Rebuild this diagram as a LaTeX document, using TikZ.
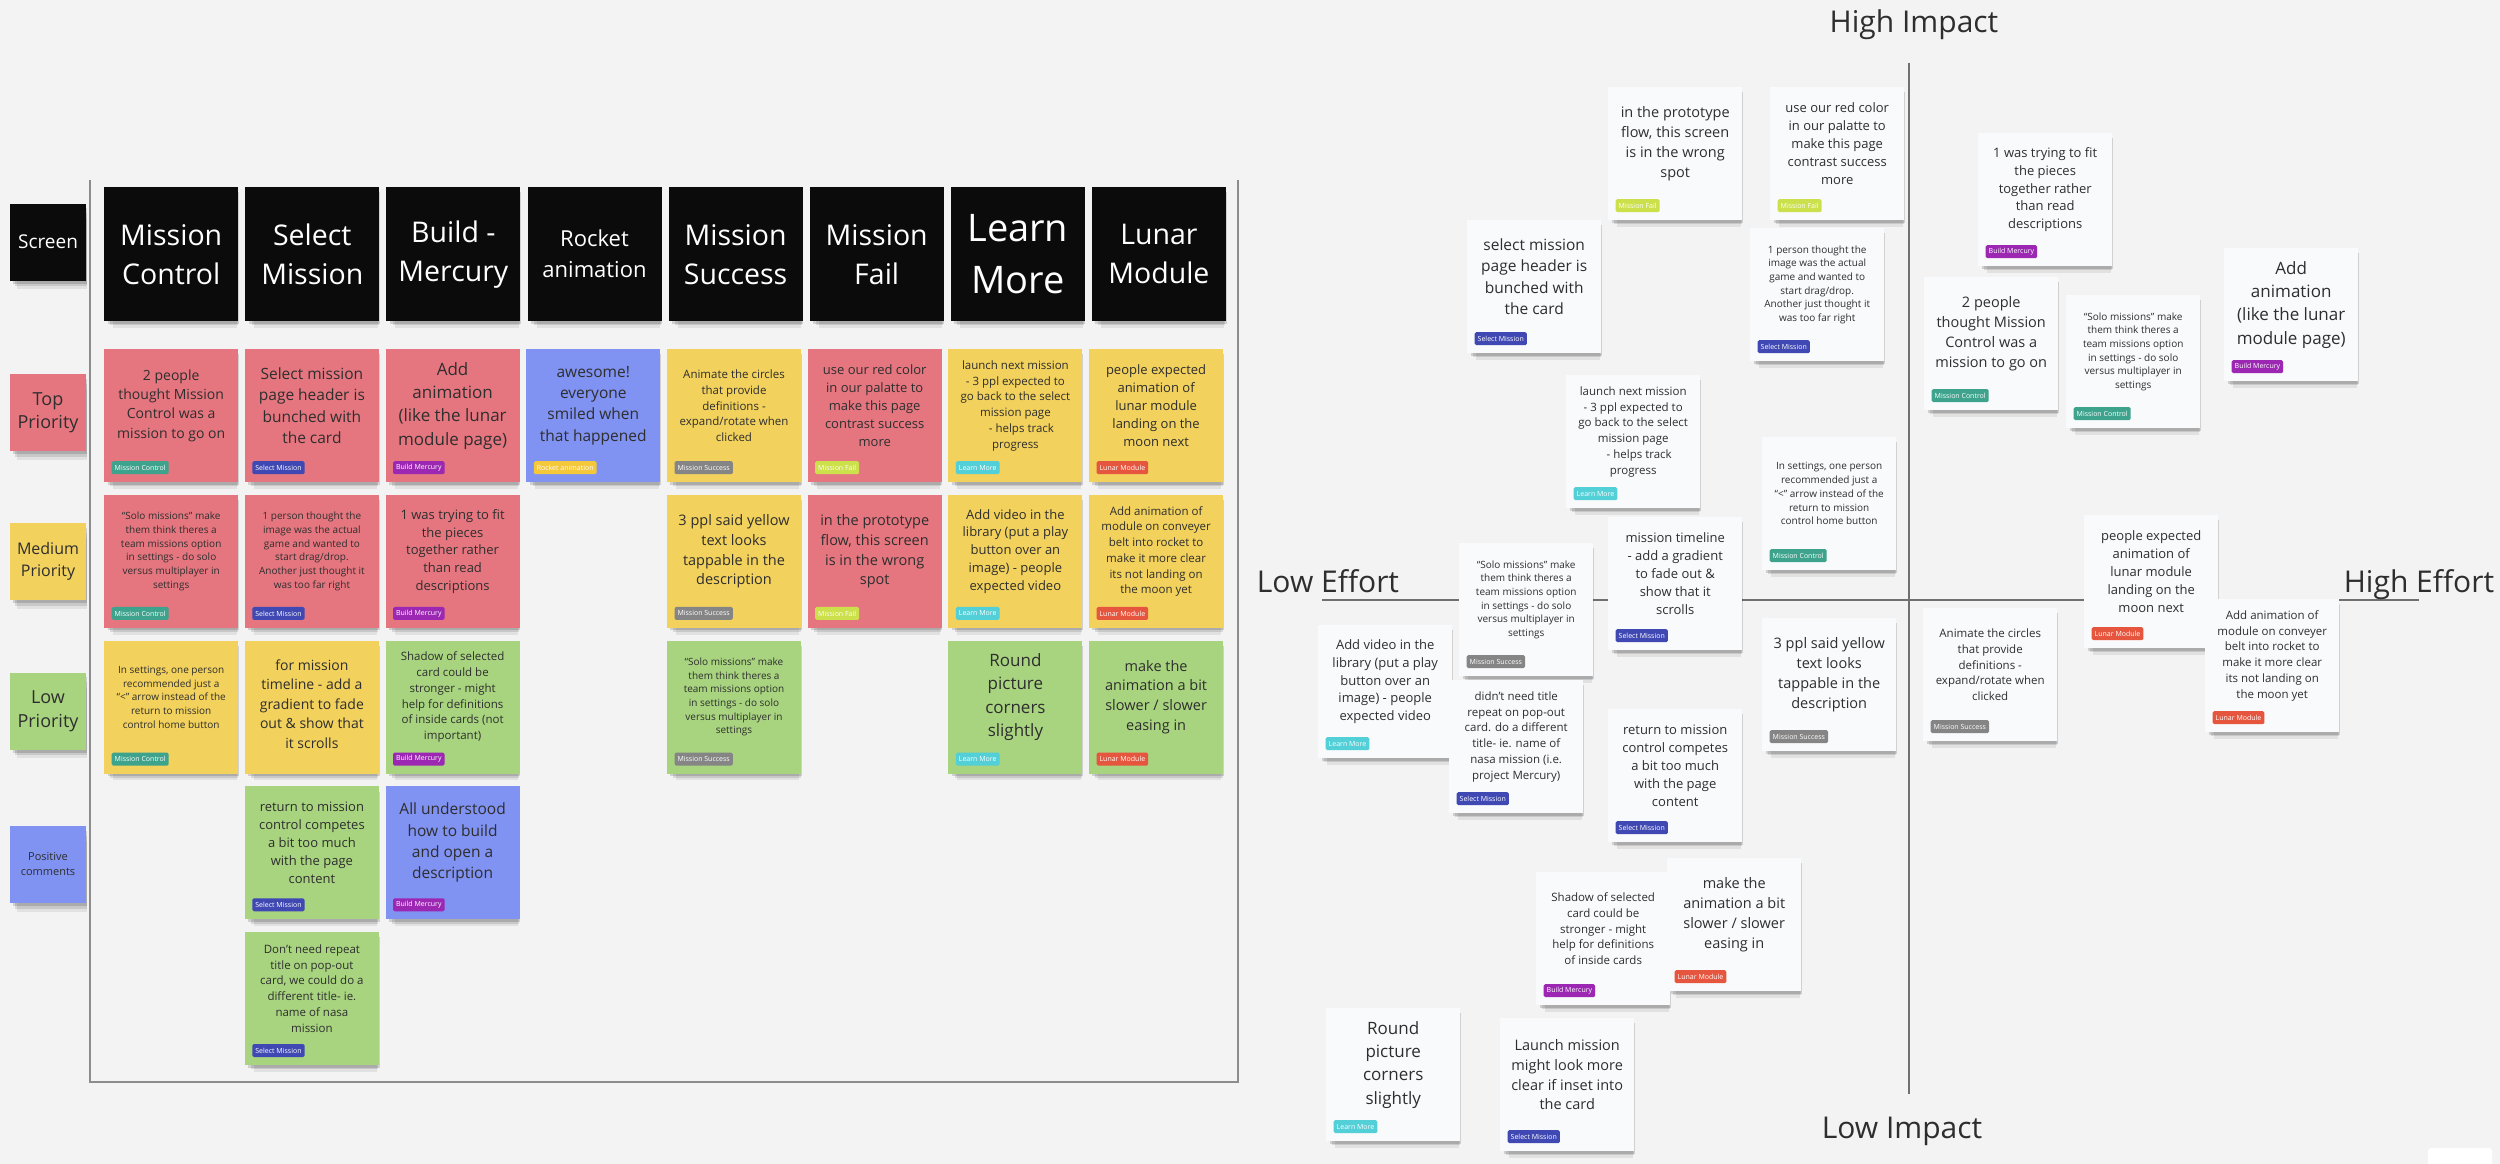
\documentclass[tikz,border=0pt]{standalone}
\usepackage{fontspec}
\setmainfont{Open Sans}
\usetikzlibrary{positioning, shadows}

\definecolor{bgGray}{HTML}{F3F3F3}
\definecolor{frameGray}{HTML}{8C8C8C}
\definecolor{axisGray}{HTML}{707070}
\definecolor{headBlack}{HTML}{0B0B0B}
\definecolor{inkGray}{HTML}{2E2E2E}
\definecolor{noteRed}{HTML}{E5767F}
\definecolor{noteYellow}{HTML}{F2D15C}
\definecolor{noteGreen}{HTML}{A8D480}
\definecolor{noteBlue}{HTML}{8092F2}
\definecolor{noteWhite}{HTML}{F9FAFB}
\definecolor{tagmc}{HTML}{3DA38D}
\definecolor{tagsm}{HTML}{4049B3}
\definecolor{tagbm}{HTML}{9B27B2}
\definecolor{tagra}{HTML}{F5C73A}
\definecolor{tagms}{HTML}{858585}
\definecolor{tagmf}{HTML}{CBE04A}
\definecolor{taglm}{HTML}{52CFD7}
\definecolor{taglu}{HTML}{E6553D}

% tag labels, looked up by key
\newcommand{\ttmc}{Mission Control}
\newcommand{\ttsm}{Select Mission}
\newcommand{\ttbm}{Build Mercury}
\newcommand{\ttra}{Rocket animation}
\newcommand{\ttms}{Mission Success}
\newcommand{\ttmf}{Mission Fail}
\newcommand{\ttlm}{Learn More}
\newcommand{\ttlu}{Lunar Module}

\begin{document}
\begin{tikzpicture}[
  x=1pt, y=-1pt,
  node distance=6.7pt,
  softshadow/.style={
    drop shadow={shadow xshift=4pt, shadow yshift=-13pt, shadow scale=0.92, opacity=0.07, fill=black},
    drop shadow={shadow xshift=3pt, shadow yshift=-8pt, shadow scale=0.95, opacity=0.11, fill=black},
    drop shadow={shadow xshift=2pt, shadow yshift=-4pt, shadow scale=0.98, opacity=0.14, fill=black}},
  card/.style={minimum width=134pt, minimum height=133pt, inner sep=0pt, anchor=north west,
               softshadow},
  header/.style={minimum width=134pt, minimum height=134pt, inner sep=0pt, fill=headBlack,
                 text=white, align=center, font=\fontsize{28.5}{39}\selectfont, softshadow},
  rowlbl/.style={minimum width=76pt, minimum height=77pt, inner sep=0pt, align=center,
                 text=inkGray, softshadow},
  cardtext/.style={align=center, inner sep=0pt, text=inkGray},
  tagbox/.style={anchor=south west, text=white, font=\fontsize{7}{8}\selectfont,
                 inner xsep=3pt, inner ysep=0pt, minimum height=13pt, rounded corners=1.5pt},
  axislbl/.style={font=\fontsize{30}{36}\selectfont, text=inkGray, inner sep=0pt,
                  text height=22pt, text depth=7pt},
  axisline/.style={draw=axisGray, line width=1.4pt},
  frameline/.style={draw=frameGray, line width=1.3pt},
]
\useasboundingbox (0,0) rectangle (2500,1164);
\fill[bgGray] (0,0) rectangle (2500,1164);

% Board: frame and row labels
\draw[frameline] (90,180) -- (90,1082) -- (1238,1082) -- (1238,180);
\node[rowlbl, fill=headBlack, text=white, font=\fontsize{19}{24}\selectfont] (lscr) at (48,242) {Screen};
\node[rowlbl, fill=noteRed, font=\fontsize{18}{23.5}\selectfont] (ltop) at (48,412.5) {Top\\Priority};
\node[rowlbl, fill=noteYellow, font=\fontsize{16}{22}\selectfont] (lmed) at (48,561.5) {Medium\\Priority};
\node[rowlbl, fill=noteGreen, font=\fontsize{18}{23.5}\selectfont] (llow) at (48,711) {Low\\Priority};
\node[rowlbl, fill=noteBlue, font=\fontsize{11}{15}\selectfont] (lpos) at (48,864.5) {Positive\\comments};

% Board: screen headers
\node[header, anchor=north west] (hmc) at (104,187) {Mission\\Control};
\node[header, right=of hmc]  (hsel) {Select\\Mission};
\node[header, right=of hsel] (hbld) {Build -\\Mercury};
\node[header, right=of hbld, font=\fontsize{22}{31}\selectfont] (hrkt) {Rocket\\animation};
\node[header, right=of hrkt] (hsuc) {Mission\\Success};
\node[header, right=of hsuc] (hfail) {Mission\\Fail};
\node[header, right=of hfail, font=\fontsize{38}{52}\selectfont] (hlrn) {Learn\\More};
\node[header, right=of hlrn] (hlun) {Lunar\\Module};

% Board: sticky notes by column / row
\foreach \nm/\cx/\ry/\fc/\fs/\txt/\tg in {
  b00/0/0/noteRed/14/{2 people\\thought Mission\\Control was a\\mission to go on}/mc,
  b01/0/1/noteRed/10/{“Solo missions” make\\them think theres a\\team missions option\\in settings - do solo\\versus multiplayer in\\settings}/mc,
  b02/0/2/noteYellow/10/{In settings, one person\\recommended just a\\“<” arrow instead of the\\return to mission\\control home button}/mc,
  b10/1/0/noteRed/15.5/{Select mission\\page header is\\bunched with\\the card}/sm,
  b11/1/1/noteRed/10/{1 person thought the\\image was the actual\\game and wanted to\\start drag/drop.\\Another just thought it\\was too far right}/sm,
  b13/1/3/noteGreen/13/{return to mission\\control competes\\a bit too much\\with the page\\content}/sm,
  b14/1/4/noteGreen/11.5/{Don’t need repeat\\title on pop-out\\card, we could do a\\different title- ie.\\name of nasa\\mission}/sm,
  b20/2/0/noteRed/17/{Add\\animation\\(like the lunar\\module page)}/bm,
  b21/2/1/noteRed/13/{1 was trying to fit\\the pieces\\together rather\\than read\\descriptions}/bm,
  b22/2/2/noteGreen/11.5/{Shadow of selected\\card could be\\stronger - might\\help for definitions\\of inside cards (not\\important)}/bm,
  b23/2/3/noteBlue/15.5/{All understood\\how to build\\and open a\\description}/bm,
  b30/3/0/noteBlue/15.5/{awesome!\\everyone\\smiled when\\that happened}/ra,
  b40/4/0/noteYellow/11.5/{Animate the circles\\that provide\\definitions -\\expand/rotate when\\clicked}/ms,
  b41/4/1/noteYellow/14.5/{3 ppl said yellow\\text looks\\tappable in the\\description}/ms,
  b42/4/2/noteGreen/10/{“Solo missions” make\\them think theres a\\team missions option\\in settings - do solo\\versus multiplayer in\\settings}/ms,
  b50/5/0/noteRed/13/{use our red color\\in our palatte to\\make this page\\contrast success\\more}/mf,
  b51/5/1/noteRed/14.5/{in the prototype\\flow, this screen\\is in the wrong\\spot}/mf,
  b60/6/0/noteYellow/11.5/{launch next mission\\- 3 ppl expected to\\go back to the select\\mission page\\\hspace*{12pt}- helps track\\progress}/lm,
  b61/6/1/noteYellow/13/{Add video in the\\library (put a play\\button over an\\image) - people\\expected video}/lm,
  b62/6/2/noteGreen/17/{Round\\picture\\corners\\slightly}/lm,
  b70/7/0/noteYellow/13/{people expected\\animation of\\lunar module\\landing on the\\moon next}/lu,
  b71/7/1/noteYellow/11.5/{Add animation of\\module on conveyer\\belt into rocket to\\make it more clear\\its not landing on\\the moon yet}/lu,
  b72/7/2/noteGreen/14.5/{make the\\animation a bit\\slower / slower\\easing in}/lu}{
  \pgfmathsetmacro\lead{1.37*\fs}
  \node[card, fill=\fc] (\nm) at ({104+140.7*\cx},{349+145.7*\ry}) {};
  \node[cardtext, font=\fontsize{\fs}{\lead}\selectfont] (\nm-t) at ([yshift=10pt]\nm.center) {\txt};
  \node[tagbox, fill=tag\tg] (\nm-g) at ([xshift=7.5pt, yshift=8pt]\nm.south west) {\csname tt\tg\endcsname};
}

% the one untagged note
\node[card, fill=noteYellow] (b12) at ({104+140.7},{349+145.7*2}) {};
\node[cardtext, font=\fontsize{14}{19.5}\selectfont] (b12-t) at ([yshift=3pt]b12.center)
  {for mission\\timeline - add a\\gradient to fade\\out \& show that\\it scrolls};

% Impact / effort quadrant
\coordinate (imptop) at (1909,63);
\coordinate (impbot) at (1909,1094);
\coordinate (effl)   at (1322,600);
\coordinate (effr)   at (2419,600);
\draw[axisline] (imptop) -- (impbot);
\draw[axisline] (effl) -- (effr);
\node[axislbl] (hiimp) at (1914,25.5)   {High Impact};
\node[axislbl] (loimp) at (1902,1130.5) {Low Impact};
\node[axislbl] (loeff) at (1328,584.5)  {Low Effort};
\node[axislbl] (hieff) at (2419,584.5)  {High Effort};

% Quadrant: sticky notes
\foreach \nm/\qx/\qy/\fs/\txt/\tg in {
  q1/1608/87/14.5/{in the prototype\\flow, this screen\\is in the wrong\\spot}/mf,
  q2/1770/87/13/{use our red color\\in our palatte to\\make this page\\contrast success\\more}/mf,
  q3/1467/220/15.5/{select mission\\page header is\\bunched with\\the card}/sm,
  q4/1750/228/10/{1 person thought the\\image was the actual\\game and wanted to\\start drag/drop.\\Another just thought it\\was too far right}/sm,
  q5/1566/375/11.5/{launch next mission\\- 3 ppl expected to\\go back to the select\\mission page\\\hspace*{12pt}- helps track\\progress}/lm,
  q6/1762/437/10/{In settings, one person\\recommended just a\\“<” arrow instead of the\\return to mission\\control home button}/mc,
  q7/1608/517/13/{mission timeline\\- add a gradient\\to fade out \&\\show that it\\scrolls}/sm,
  q8/1459/543/10/{“Solo missions” make\\them think theres a\\team missions option\\in settings - do solo\\versus multiplayer in\\settings}/ms,
  q9/1318/625/13/{Add video in the\\library (put a play\\button over an\\image) - people\\expected video}/lm,
  q10/1449/680/11.5/{didn’t need title\\repeat on pop-out\\card. do a different\\title- ie. name of\\nasa mission (i.e.\\project Mercury)}/sm,
  q11/1762/618/14.5/{3 ppl said yellow\\text looks\\tappable in the\\description}/ms,
  q12/1608/709/13/{return to mission\\control competes\\a bit too much\\with the page\\content}/sm,
  q13/1536/872/11.5/{Shadow of selected\\card could be\\stronger - might\\help for definitions\\of inside cards}/bm,
  q14/1667/858/14.5/{make the\\animation a bit\\slower / slower\\easing in}/lu,
  q15/1326/1008/17/{Round\\picture\\corners\\slightly}/lm,
  q16/1500/1018/14.5/{Launch mission\\might look more\\clear if inset into\\the card}/sm,
  q17/1978/133/13/{1 was trying to fit\\the pieces\\together rather\\than read\\descriptions}/bm,
  q18/1924/277/14.5/{2 people\\thought Mission\\Control was a\\mission to go on}/mc,
  q19/2066/295/10/{“Solo missions” make\\them think theres a\\team missions option\\in settings - do solo\\versus multiplayer in\\settings}/mc,
  q20/2224/248/17/{Add\\animation\\(like the lunar\\module page)}/bm,
  q23/1923/608/11.5/{Animate the circles\\that provide\\definitions -\\expand/rotate when\\clicked}/ms,
  q21/2084/515/13/{people expected\\animation of\\lunar module\\landing on the\\moon next}/lu,
  q22/2205/599/11.5/{Add animation of\\module on conveyer\\belt into rocket to\\make it more clear\\its not landing on\\the moon yet}/lu}{
  \pgfmathsetmacro\lead{1.37*\fs}
  \node[card, fill=noteWhite] (\nm) at (\qx,\qy) {};
  \node[cardtext, font=\fontsize{\fs}{\lead}\selectfont] (\nm-t) at ([yshift=10pt]\nm.center) {\txt};
  \node[tagbox, fill=tag\tg] (\nm-g) at ([xshift=7.5pt, yshift=8pt]\nm.south west) {\csname tt\tg\endcsname};
}

% corner widget, cut by the page edge
\fill[white, rounded corners=3pt] (2428,1148) rectangle (2492,1180);
\end{tikzpicture}
\end{document}
